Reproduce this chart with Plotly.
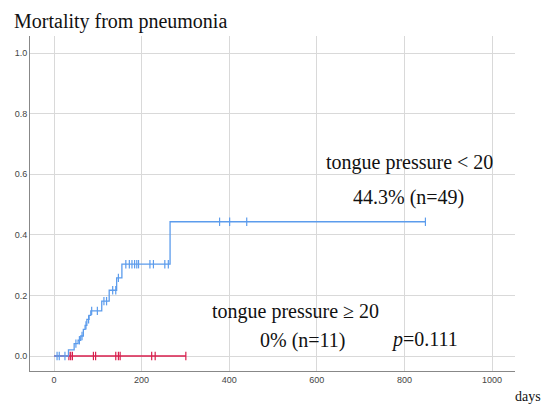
import plotly.graph_objects as go

# ---- data ----
blue_times = [0, 33, 46, 55, 61, 67, 71, 75, 80, 84, 109, 126, 143, 155, 265, 848]
blue_vals = [0, 0.020, 0.041, 0.052, 0.066, 0.088, 0.101, 0.121, 0.134, 0.149, 0.181, 0.217, 0.258, 0.303, 0.443, 0.443]
blue_censor = [7, 12, 25, 50, 58, 64, 73, 79, 86, 99, 114, 120, 134, 141, 147, 164, 172, 178,
               184, 189, 193, 219, 227, 253, 261, 378, 401, 440, 848]

red_times = [0, 301]
red_vals = [0, 0]
red_censor = [34, 38, 42, 90, 95, 141, 147, 151, 223, 231, 301]

x_ticks = [0, 200, 400, 600, 800, 1000]
y_ticks = [0.0, 0.2, 0.4, 0.6, 0.8, 1.0]

BLUE = "#5c9cec"
RED = "#d81e4c"


def step_value(times, vals, t):
    v = vals[0]
    for ti, vi in zip(times, vals):
        if ti <= t:
            v = vi
    return v


fig = go.Figure()
fig.add_trace(go.Scatter(x=red_times, y=red_vals, mode="lines", line=dict(color=RED, width=1.3, shape="hv"),
                         showlegend=False, hoverinfo="skip"))
fig.add_trace(go.Scatter(x=red_censor, y=[step_value(red_times, red_vals, t) for t in red_censor], mode="markers",
                         marker=dict(symbol="line-ns", size=6, line=dict(color=RED, width=1.2)),
                         showlegend=False))
fig.add_trace(go.Scatter(x=blue_times, y=blue_vals, mode="lines", line=dict(color=BLUE, width=1.3, shape="hv"),
                         showlegend=False, hoverinfo="skip"))
fig.add_trace(go.Scatter(x=blue_censor, y=[step_value(blue_times, blue_vals, t) for t in blue_censor], mode="markers",
                         marker=dict(symbol="line-ns", size=6, line=dict(color=BLUE, width=1.2)),
                         showlegend=False))

L, R, T, B = 30, 515, 36, 371


def px(x):
    return (x - L) / (R - L)


def py(y):
    return (B - y) / (B - T)


# white boxes behind the text (cover gridlines)
boxes = [(305, 520, 137, 183), (320, 490, 183, 217), (196, 406, 284, 318),
         (226, 242, 318, 352), (242, 483, 318, 358)]
for x0, x1, y0, y1 in boxes:
    fig.add_shape(type="rect", xref="paper", yref="paper", x0=px(x0), x1=px(x1), y0=py(y1), y1=py(y0),
                  fillcolor="white", line=dict(width=0), layer="between")

SERIF = "Liberation Serif, Times New Roman, serif"
texts = [
    ("tongue pressure &lt; 20", 409, 162, 20, "center"),
    ("44.3% (n=49)", 408, 197, 20, "center"),
    ("tongue pressure ≥ 20", 295, 311, 20, "center"),
    ("0% (n=11)", 303, 340, 20, "center"),
    ("<i>p</i>=0.111", 424, 339, 20, "center"),
]
for txt, x, y, s, anc in texts:
    fig.add_annotation(text=txt, xref="paper", yref="paper", x=px(x), y=py(y), xanchor=anc, yanchor="middle",
                       showarrow=False, font=dict(family=SERIF, size=s, color="#111111"))

fig.add_annotation(text="Mortality from pneumonia", xref="paper", yref="paper", x=px(12), y=py(21),
                   xanchor="left", yanchor="middle", showarrow=False,
                   font=dict(family=SERIF, size=20, color="#111111"))
fig.add_annotation(text="days", xref="paper", yref="paper", x=px(513), y=py(397),
                   xanchor="left", yanchor="middle", showarrow=False,
                   font=dict(family=SERIF, size=14, color="#111111"))

fig.update_xaxes(range=[-54.8, 1052.5], tickvals=x_ticks, ticktext=[str(v) for v in x_ticks],
                 showgrid=True, gridcolor="#d9d9d9", gridwidth=1, zeroline=False,
                 showline=True, linecolor="#888888", linewidth=1, ticks="",
                 tickfont=dict(family="Liberation Sans, Arial", size=9, color="#444444"))
fig.update_yaxes(range=[-0.0495, 1.0561], tickvals=y_ticks, ticktext=[f"{v:.1f}" for v in y_ticks],
                 showgrid=True, gridcolor="#d9d9d9", gridwidth=1, zeroline=False,
                 showline=True, linecolor="#888888", linewidth=1, ticks="",
                 tickfont=dict(family="Liberation Sans, Arial", size=9, color="#444444"))

fig.update_layout(width=544, height=404, autosize=False,
                  margin=dict(l=L, r=544 - R, t=T, b=404 - B),
                  plot_bgcolor="white", paper_bgcolor="white")

fig.write_html("out.html")
